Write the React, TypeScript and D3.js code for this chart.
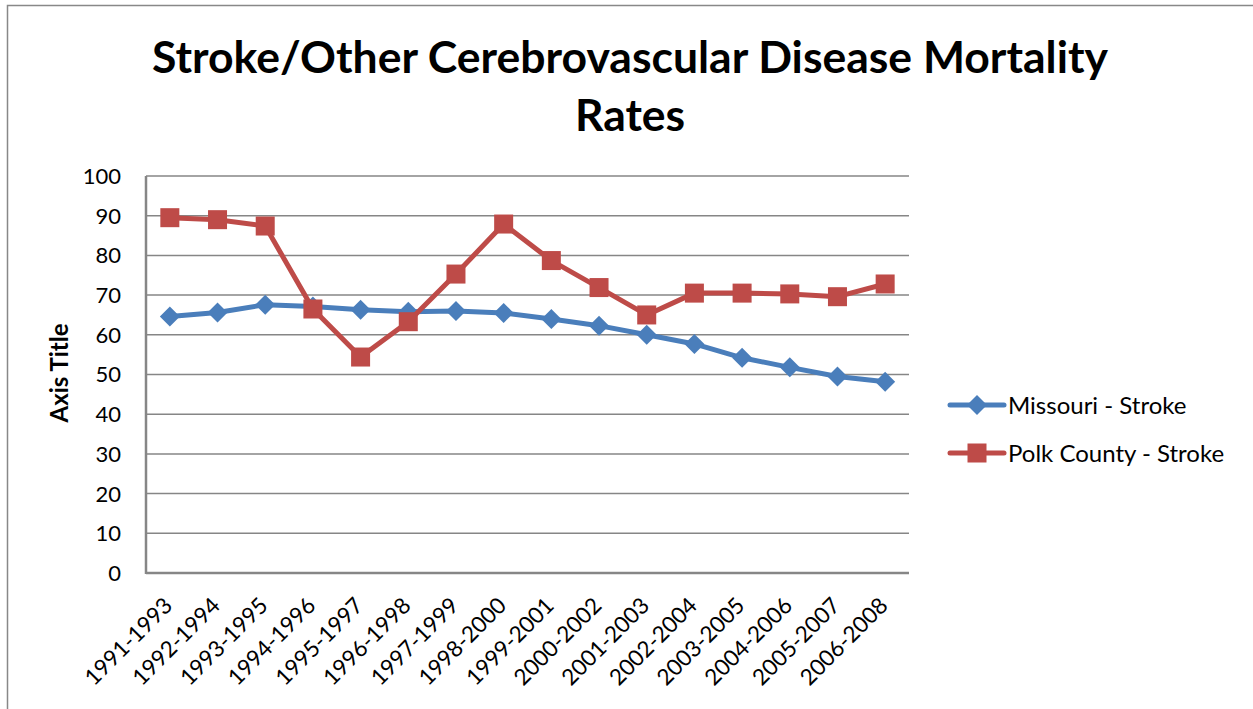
import React from 'react';
import * as d3 from 'd3';

const periods = ['1991-1993', '1992-1994', '1993-1995', '1994-1996', '1995-1997', '1996-1998', '1997-1999',
  '1998-2000', '1999-2001', '2000-2002', '2001-2003', '2002-2004', '2003-2005', '2004-2006', '2005-2007', '2006-2008'];
const missouri = [64.6, 65.6, 67.6, 67.1, 66.3, 65.8, 66.0, 65.5, 64.0, 62.3, 60.0, 57.7, 54.2, 51.8, 49.5, 48.2];
const polk = [89.5, 89.0, 87.4, 66.5, 54.4, 63.3, 75.3, 87.9, 78.7, 71.9, 65.0, 70.5, 70.5, 70.3, 69.6, 72.8];
const yTicks = [0, 10, 20, 30, 40, 50, 60, 70, 80, 90, 100];

const font = 'Lato, "Open Sans", sans-serif';
const blue = '#4A7EBB';
const red = '#BE4B48';

export default function App() {
  const width = 1253;
  const height = 709;
  const plot = { left: 146, right: 909, top: 176, bottom: 573 };

  const x = d3.scalePoint().domain(periods).range([plot.left, plot.right]).padding(0.5);
  const y = d3.scaleLinear().domain([0, 100]).range([plot.bottom, plot.top]);

  const line = d3.line<number>()
    .x((_, i) => x(periods[i]) as number)
    .y((d) => y(d));

  const series = [
    { name: 'Missouri - Stroke', values: missouri, color: blue, shape: 'diamond' },
    { name: 'Polk County - Stroke', values: polk, color: red, shape: 'square' },
  ];

  const marker = (shape: string, cx: number, cy: number, color: string, key: string) =>
    shape === 'diamond'
      ? <path key={key} d={`M${cx},${cy - 10}L${cx + 10},${cy}L${cx},${cy + 10}L${cx - 10},${cy}Z`} fill={color} />
      : <rect key={key} x={cx - 9.5} y={cy - 9.5} width={19} height={19} fill={color} />;

  return (
    <div style={{ position: 'absolute', left: 0, top: 0 }}>
      <svg width={width} height={height} style={{ display: 'block', fontFamily: font }}>
        <rect x={0} y={0} width={width} height={height} fill="white" />
        <rect x={7.5} y={5.5} width={width} height={height} fill="none" stroke="#888" strokeWidth={1.5} />

        <text x={630} y={73} textAnchor="middle" fontSize={44.5} fontWeight="bold">
          Stroke/Other Cerebrovascular Disease Mortality
        </text>
        <text x={630} y={131} textAnchor="middle" fontSize={44.5} fontWeight="bold">Rates</text>

        <g>
          {yTicks.map((t) => (
            <g key={`grid-${t}`}>
              <line x1={plot.left} x2={plot.right} y1={y(t)} y2={y(t)} stroke="#868686" strokeWidth={t === 0 ? 2.5 : 1.5} />
              <text x={121} y={y(t)} dy="0.36em" textAnchor="end" fontSize={22}>{t}</text>
            </g>
          ))}
          <line x1={plot.left} x2={plot.left} y1={plot.top} y2={plot.bottom + 1} stroke="#868686" strokeWidth={2.5} />
        </g>

        <text transform="translate(68,373) rotate(-90)" textAnchor="middle" fontSize={24} fontWeight="bold">Axis Title</text>

        <g>
          {periods.map((p) => (
            <text key={`xl-${p}`} transform={`translate(${(x(p) as number) + 4},${plot.bottom + 34}) rotate(-45)`}
              textAnchor="end" fontSize={22.5}>{p}</text>
          ))}
        </g>

        {series.map((s) => (
          <g key={s.name}>
            <path d={line(s.values) ?? ''} fill="none" stroke={s.color} strokeWidth={5} strokeLinejoin="round" strokeLinecap="round" />
            {s.values.map((v, i) => marker(s.shape, x(periods[i]) as number, y(v), s.color, `${s.name}-${i}`))}
          </g>
        ))}

        <g>
          {series.map((s, i) => {
            const ly = 405 + i * 48;
            return (
              <g key={`legend-${s.name}`}>
                <line x1={950} x2={1004} y1={ly} y2={ly} stroke={s.color} strokeWidth={5} strokeLinecap="round" />
                {marker(s.shape, 977, ly, s.color, `lm-${i}`)}
                <text x={1008} y={ly} dy="0.36em" fontSize={24}>{s.name}</text>
              </g>
            );
          })}
        </g>
      </svg>
    </div>
  );
}
